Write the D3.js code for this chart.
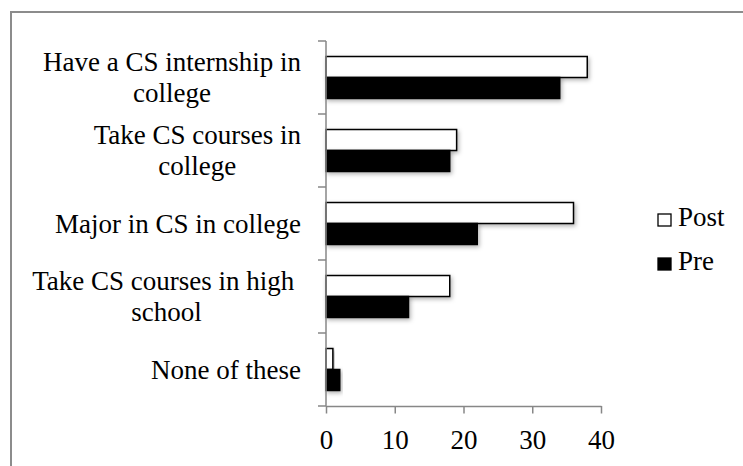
<!DOCTYPE html>
<html>
<head>
<meta charset="utf-8">
<script src="https://cdn.jsdelivr.net/npm/d3@7"></script>
<style>
  body { margin: 0; background: #fff; }
  svg text { font-family: "Liberation Serif", "Times New Roman", serif; fill: #000; white-space: pre; }
</style>
</head>
<body>
<svg id="chart" width="743" height="466"></svg>
<script>
// ---- data ----
const categories = [
    ["Have a CS internship in", "college"],
    ["Take CS courses in", "college"],
    ["Major in CS in college"],
    ["Take CS courses in high ", "school"],
    ["None of these"]
];
const seriesNames = ["Post", "Pre"];
const postValues = [38, 19, 36, 18, 1];
const preValues = [34, 18, 22, 12, 2];
const xTicks = [0, 10, 20, 30, 40];

const seriesValues = { Post: postValues, Pre: preValues };
const seriesFill = { Post: "#ffffff", Pre: "#000000" };

const svg = d3.select("#chart");

// frame around the chart (runs off the right and bottom edges)
svg.append("rect")
    .attr("x", 11).attr("y", 12)
    .attr("width", 760).attr("height", 480)
    .attr("fill", "none")
    .attr("stroke", "#8c8c8c")
    .attr("stroke-width", 2);

// soft drop shadow for bars
const defs = svg.append("defs");
defs.append("filter")
    .attr("id", "shadow")
    .attr("x", "-10%").attr("y", "-30%")
    .attr("width", "130%").attr("height", "180%")
    .append("feDropShadow")
    .attr("dx", 1.5).attr("dy", 2)
    .attr("stdDeviation", 2)
    .attr("flood-color", "#000")
    .attr("flood-opacity", 0.3);

// scales
const x = d3.scaleLinear().domain([0, 40]).range([326, 601]);
const y = d3.scaleBand()
    .domain(d3.range(categories.length))
    .range([41, 406])
    .paddingInner(0.425)
    .paddingOuter(0.2125);
const ySub = d3.scaleBand().domain(seriesNames).range([0, y.bandwidth()]);

// bars
const rows = svg.append("g").selectAll("g")
    .data(categories.map((c, i) => i))
    .join("g")
    .attr("transform", i => `translate(0,${y(i)})`);

rows.selectAll("rect")
    .data(i => seriesNames.map(s => ({ s, v: seriesValues[s][i] })))
    .join("rect")
    .attr("x", x(0))
    .attr("y", d => ySub(d.s))
    .attr("width", d => x(d.v) - x(0))
    .attr("height", ySub.bandwidth())
    .attr("fill", d => seriesFill[d.s])
    .attr("stroke", "#000")
    .attr("stroke-width", 1.5)
    .attr("filter", "url(#shadow)");

// axes
const axisColor = "#878787";
const yBoundaries = d3.range(categories.length + 1).map(i => 41 + i * 73);

const yAxis = svg.append("g");
yAxis.append("line")
    .attr("x1", x(0)).attr("x2", x(0))
    .attr("y1", 41).attr("y2", 406)
    .attr("stroke", axisColor).attr("stroke-width", 1.5);
yAxis.selectAll(".tick")
    .data(yBoundaries)
    .join("line")
    .attr("class", "tick")
    .attr("x1", x(0) - 8).attr("x2", x(0))
    .attr("y1", d => d).attr("y2", d => d)
    .attr("stroke", axisColor).attr("stroke-width", 1.5);

const xAxis = svg.append("g")
    .attr("transform", "translate(0,406)")
    .call(d3.axisBottom(x).tickValues(xTicks).tickSize(7.5).tickSizeOuter(0).tickPadding(16));
xAxis.select(".domain").attr("stroke", axisColor).attr("stroke-width", 1.5);
xAxis.selectAll(".tick line").attr("stroke", axisColor).attr("stroke-width", 1.5);
xAxis.selectAll(".tick text")
    .attr("font-size", 27)
    .attr("font-family", "Liberation Serif, serif")
    .attr("dy", "0.71em")
    .attr("fill", "#000");

// category labels: block right aligned at 301, lines centred within the block
const lineHeight = 31;
const labelRight = 301;
const labels = svg.append("g").selectAll("text")
    .data(categories)
    .join("text")
    .attr("text-anchor", "middle")
    .attr("font-size", 27)
    .attr("y", (d, i) => y(i) + y.bandwidth() / 2);

const spans = labels.selectAll("tspan")
    .data(d => d.map((t, k) => ({ t, k, n: d.length })))
    .join("tspan")
    .attr("dy", d => d.k === 0 ? (9 - (d.n - 1) * lineHeight / 2) : lineHeight)
    .text(d => d.t);

labels.each(function () {
    const ts = d3.select(this).selectAll("tspan");
    let maxW = 0;
    ts.each(function () { maxW = Math.max(maxW, this.getComputedTextLength()); });
    ts.attr("x", labelRight - maxW / 2);
});

// legend
const legend = svg.append("g").selectAll("g")
    .data(seriesNames)
    .join("g")
    .attr("transform", (d, i) => `translate(658,${214 + i * 44})`);
legend.append("rect")
    .attr("width", 13).attr("height", 12)
    .attr("fill", d => seriesFill[d])
    .attr("stroke", "#000")
    .attr("stroke-width", 1.3);
legend.append("text")
    .attr("x", 20).attr("y", 12)
    .attr("font-size", 27)
    .text(d => d);
</script>
</body>
</html>
